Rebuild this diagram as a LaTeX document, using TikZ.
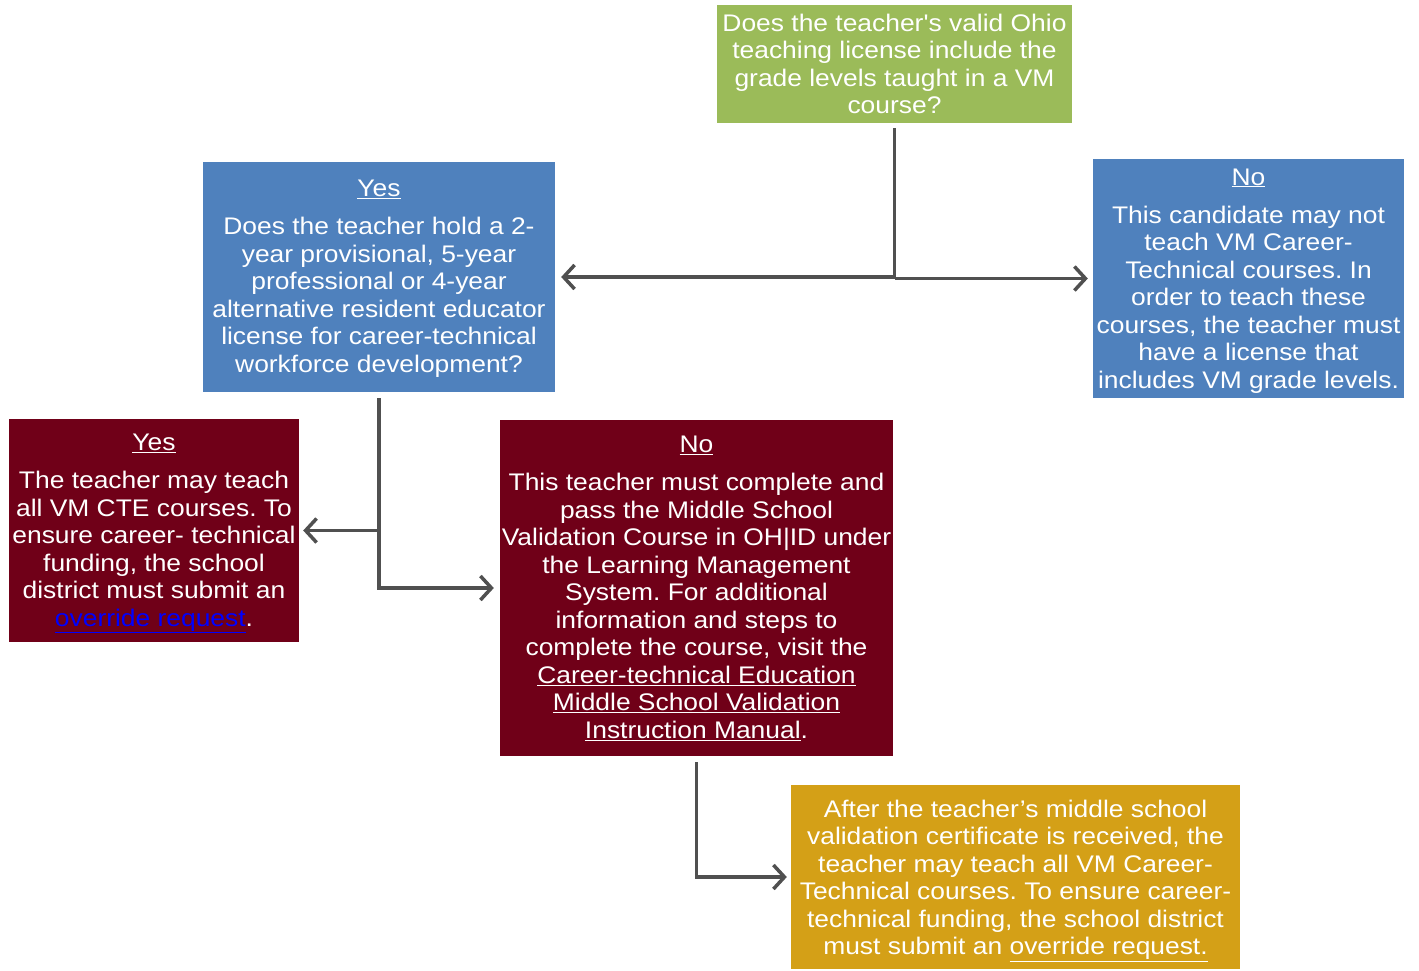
\documentclass[tikz,border=0pt]{standalone}
\usepackage{fontspec}
\setmainfont[FakeStretch=1.1,Ligatures=TeXOff]{Liberation Sans}
\usetikzlibrary{arrows.meta}
\frenchspacing
\definecolor{boxgreen}{RGB}{155,187,89}
\definecolor{boxblue}{RGB}{79,129,189}
\definecolor{boxred}{RGB}{112,0,24}
\definecolor{boxgold}{RGB}{212,160,23}
\definecolor{conngray}{RGB}{80,80,80}
\definecolor{linkblue}{RGB}{0,0,255}
\tikzset{
  flowbox/.style={rectangle, inner sep=0pt, align=center, text=white,
    font=\fontsize{24}{27.5}\selectfont},
  conn/.style={draw=conngray, line width=3.5pt,
    -{Straight Barb[length=11pt,width=24pt]}},
}
\begin{document}
\begin{tikzpicture}[x=1pt,y=-1pt]
\useasboundingbox (0,0) rectangle (1419,970);

\node[flowbox, fill=boxgreen, minimum width=355pt, minimum height=118pt] (green) at (894.5,64)
{Does the teacher's valid Ohio\\teaching license include the\\grade levels taught in a VM\\course?};

\node[flowbox, fill=boxblue, minimum width=352pt, minimum height=230pt] (blueyes) at (379,277)
{\rule{0pt}{20pt}\underline{Yes}\\[10.5pt]Does the teacher hold a 2-\\year provisional, 5-year\\professional or 4-year\\alternative resident educator\\license for career-technical\\workforce development?};

\node[flowbox, fill=boxblue, minimum width=311pt, minimum height=239pt] (blueno) at (1248.5,278.5)
{\rule{0pt}{21pt}\underline{No}\\[10.5pt]This candidate may not\\teach VM Career-\\Technical courses. In\\order to teach these\\courses, the teacher must\\have a license that\\includes VM grade levels.};

\node[flowbox, fill=boxred, minimum width=290pt, minimum height=223pt] (redyes) at (154,530.5)
{\rule{0pt}{23pt}\underline{Yes}\\[10.5pt]The teacher may teach\\all VM CTE courses. To\\ensure career- technical\\funding, the school\\district must submit an\\\textcolor{linkblue}{\underline{override request}}.};

\node[flowbox, fill=boxred, minimum width=393pt, minimum height=336pt] (redno) at (696.5,588)
{\underline{No}\\[11pt]This teacher must complete and\\pass the Middle School\\Validation Course in OH|ID under\\the Learning Management\\System. For additional\\information and steps to\\complete the course, visit the\\\underline{Career-technical Education}\\\underline{Middle School Validation}\\\underline{Instruction Manual}.};

\node[flowbox, fill=boxgold, minimum width=449pt, minimum height=184pt] (gold) at (1015.5,877)
{\rule{0pt}{25pt}After the teacher’s middle school\\validation certificate is received, the\\teacher may teach all VM Career-\\Technical courses. To ensure career-\\technical funding, the school district\\must submit an \underline{override request.}};

% connectors
\coordinate (j1) at (green.south |- blueno.west);
\draw[conn, shorten <=5pt, shorten >=6pt] (green.south) |- (blueyes.east);
\draw[conn, shorten >=5pt] (j1) -- (blueno.west);

\coordinate (j2) at (blueyes.south |- redyes.east);
\draw[conn, shorten <=6pt, shorten >=6pt] (blueyes.south) |- (redno.west);
\draw[conn, shorten >=4pt] (j2) -- (redyes.east);

\draw[conn, shorten <=6pt, shorten >=4pt] (redno.south) |- (gold.west);
\end{tikzpicture}
\end{document}
